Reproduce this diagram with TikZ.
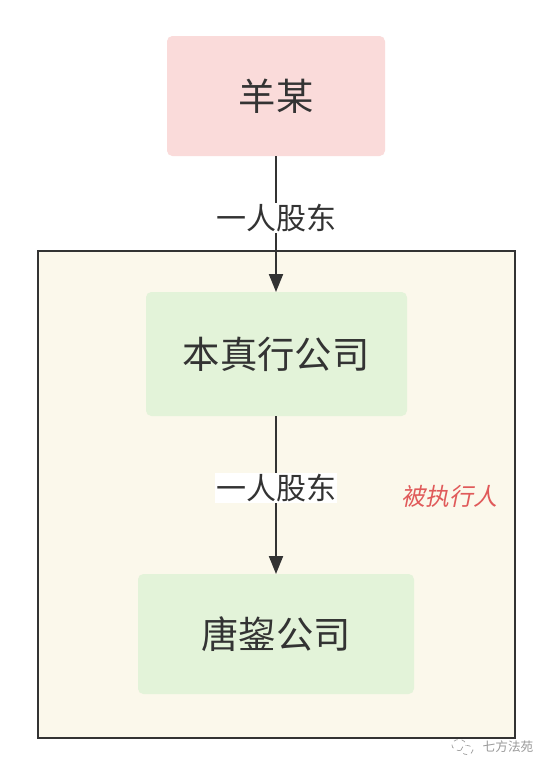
\documentclass[tikz,border=0pt]{standalone}
\usepackage{fontspec}
\setmainfont{Noto Sans CJK SC}
\newfontfamily\cjkslant[FakeSlant=0.2]{Noto Sans CJK SC}
\usetikzlibrary{arrows.meta}
\definecolor{txt}{HTML}{333333}
\definecolor{pinkfill}{HTML}{FADBDA}
\definecolor{greenfill}{HTML}{E3F3D9}
\definecolor{creamfill}{HTML}{FBF8EB}
\definecolor{redtxt}{HTML}{E05A5A}
\definecolor{wm}{HTML}{9A9A9A}
\tikzset{
  entity/.style={rounded corners=4pt, draw=none, text=txt, font=\fontsize{28pt}{30pt}\selectfont},
  link/.style={draw=txt, line width=1.5pt, -{Triangle[length=13.5pt,width=10.5pt]}},
  edgelabel/.style={fill=white, text=txt, font=\fontsize{22.5pt}{24pt}\selectfont, inner sep=1pt},
}
\begin{document}
\begin{tikzpicture}[x=0.75pt,y=-0.75pt]
\useasboundingbox[fill=white] (0,0) rectangle (552,775);
% outer frame
\draw[fill=creamfill, draw=txt, line width=1.5pt] (38,251) rectangle (515,738);
% nodes
\fill[pinkfill, rounded corners=4pt] (167,36) rectangle (385,156);
\node[entity] (a) at (276,96) {羊某};
\fill[greenfill, rounded corners=4pt] (146,292) rectangle (407,416);
\node[entity] (b) at (276,354) {本真行公司};
\fill[greenfill, rounded corners=4pt] (138,574) rectangle (414,694);
\node[entity] (c) at (276,634) {唐鋆公司};
\coordinate (aS) at (276,156);
\coordinate (bN) at (276,292);
\coordinate (bS) at (276,416);
\coordinate (cN) at (276,574);
\draw[link] (aS) -- (bN);
\draw[link] (bS) -- (cN);
\node[edgelabel] (l1) at (276,218) {一人股东};
\node[edgelabel] (l2) at (276,488) {一人股东};
\node[text=redtxt, font=\cjkslant\fontsize{18pt}{20pt}\selectfont] (exec) at (449,496) {被执行人};
% watermark
\node[text=wm, font=\fontsize{9.5pt}{11pt}\selectfont] (wmt) at (508,747) {七方法苑};
\draw[wm, dashed, line width=0.5pt] (459,745) ellipse (7 and 5.5);
\draw[wm, dashed, line width=0.5pt, fill=white] (467,750) ellipse (6 and 4.5);
\end{tikzpicture}
\end{document}
